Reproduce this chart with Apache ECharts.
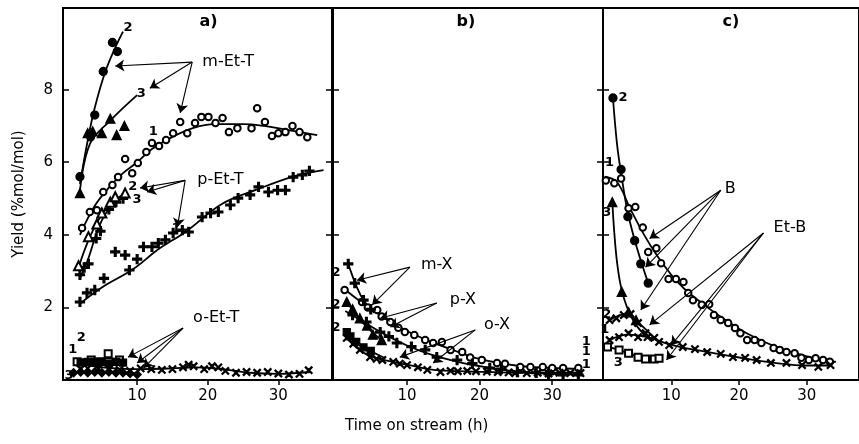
<!DOCTYPE html>
<html><head><meta charset="utf-8">
<script src="https://cdn.jsdelivr.net/npm/echarts@6/dist/echarts.min.js"></script>
<style>html,body{margin:0;padding:0;background:#fff}#c{width:859px;height:444px}</style>
</head><body><div id="c"></div>
<script>
// ---------- tick labels ----------
const yTicks = [2, 4, 6, 8];
const xTicks = [10, 20, 30];
const yAxisTitle = 'Yield (%mol/mol)';
const xAxisTitle = 'Time on stream (h)';

// ---------- panel a: ethyltoluenes ----------
const mEtT1 = [[2.2,4.19],[3.3,4.63],[4.3,4.68],[5.2,5.18],[6.5,5.37],[7.3,5.59],[8.3,6.09],[9.3,5.70],[10.1,5.98],[11.3,6.28],[12.1,6.53],[13.1,6.45],[14.1,6.61],[15.1,6.80],[16.1,7.11],[17.1,6.80],[18.2,7.08],[19.1,7.25],[20.1,7.25],[21.1,7.08],[22.1,7.22],[23.0,6.83],[24.2,6.94],[26.2,6.94],[27.0,7.49],[28.1,7.11],[29.1,6.72],[30.0,6.80],[31.0,6.83],[32.0,7.0],[33.0,6.83],[34.1,6.69]];
const mEtT1Fit = [[1.9,4.0],[4,4.8],[6,5.3],[8,5.7],[10,6.0],[12,6.35],[15,6.7],[18,6.95],[21,7.05],[25,7.05],[28,7.0],[31,6.9],[35.5,6.75]];
const mEtT2 = [[1.9,5.6],[3.4,6.7],[4.0,7.3],[5.2,8.5],[6.5,9.3],[7.2,9.05]];
const mEtT2Fit = [[1.9,5.4],[3,6.6],[4,7.5],[5.5,8.5],[7,9.2],[8,9.6]];
const mEtT3 = [[1.9,5.15],[3.0,6.8],[3.7,6.85],[5.0,6.8],[6.2,7.2],[7.1,6.75],[8.2,7.0]];
const mEtT3Fit = [[1.9,5.2],[3.3,6.5],[6.2,7.15],[10,7.85]];
const pEtT1 = [[1.9,2.15],[2.9,2.4],[4.0,2.48],[5.3,2.8],[6.9,3.53],[8.3,3.44],[8.9,3.03],[10.0,3.33],[10.9,3.67],[12.1,3.67],[13.0,3.77],[14.0,3.86],[15.1,4.05],[16.4,4.13],[17.3,4.08],[19.2,4.49],[20.4,4.6],[21.5,4.63],[23.2,4.82],[24.3,5.01],[26.0,5.1],[27.2,5.32],[28.6,5.18],[29.9,5.23],[31.0,5.23],[32.1,5.59],[33.4,5.65],[34.4,5.76]];
const pEtT1Fit = [[1.9,2.1],[5,2.55],[9.4,3.05],[13,3.6],[17,4.1],[22,4.85],[27,5.25],[32,5.6],[36.4,5.78]];
const pEtT2 = [[1.9,2.9],[2.5,3.1],[3.1,3.2],[4.2,3.9],[4.8,4.1],[6.0,4.7],[7.0,4.9],[8.0,5.0]];
const pEtT2Fit = [[1.9,2.8],[3,3.3],[4,3.9],[5,4.4],[6.5,4.85],[8,5.1]];
const pEtT3 = [[1.7,3.15],[3.1,3.95],[4.3,4.3],[5.0,4.6],[6.2,4.9],[6.9,5.05],[8.3,5.15]];
const pEtT3Fit = [[1.7,3.1],[3,3.8],[4.5,4.4],[6,4.8],[8.3,5.15]];
const oEtT1 = [[2,0.3],[3,0.32],[4.5,0.3],[6,0.3],[7.5,0.28],[9,0.25],[10.5,0.32],[12,0.3],[13.5,0.28],[15,0.3],[16.5,0.35],[17.3,0.42],[18,0.38],[19.5,0.3],[20.6,0.38],[21.5,0.35],[22.5,0.25],[24,0.2],[25.5,0.22],[27,0.2],[28.5,0.22],[30,0.18],[31.5,0.15],[33,0.17],[34.3,0.27]];
const oEtT1Fit = [[1.5,0.45],[5,0.35],[10,0.3],[15,0.32],[18,0.35],[22,0.3],[26,0.2],[30,0.17],[34.5,0.22]];
const oEtT1b = [[1.5,0.5],[3.5,0.55],[5.9,0.72],[7.5,0.55]];
const oEtT2 = [[2,0.48],[3,0.5],[4,0.5],[5,0.5],[6,0.45],[7,0.5],[8,0.48]];
const oEtT2Fit = [[1.5,0.55],[5,0.6],[8.5,0.55]];
const oEtT3 = [[1,0.2],[2,0.22],[3,0.2],[4,0.22],[5,0.2],[6,0.22],[7,0.2],[8,0.2],[9,0.18],[10,0.15]];
const oEtT3Fit = [[1,0.22],[5,0.22],[10,0.18]];

// ---------- panel b: xylenes ----------
const mX1 = [[1.4,2.48],[3.8,2.15],[4.6,2.0],[5.9,1.93],[6.5,1.75],[7.7,1.6],[8.8,1.44],[9.7,1.32],[11,1.24],[12.5,1.1],[13.6,1.02],[14.8,1.05],[16.0,0.83],[17.6,0.77],[18.7,0.62],[20.3,0.55],[22.4,0.47],[23.5,0.45],[25.6,0.36],[27,0.36],[28.7,0.36],[30,0.33],[31.5,0.33],[33.6,0.33]];
const mX1Fit = [[1.4,2.5],[4,2.1],[7,1.7],[10,1.35],[13,1.08],[16,0.85],[20,0.58],[25,0.4],[30,0.33],[34,0.3]];
const mX2 = [[1.9,3.2],[2.8,2.67],[4,2.2],[5,1.95]];
const mX2Fit = [[1.9,3.2],[3,2.6],[4,2.2],[5.5,1.85]];
const pX1 = [[2.5,1.79],[4.4,1.6],[6.3,1.32],[7.5,1.2],[8.6,1.02],[10.6,0.92],[12.5,0.83],[14.1,0.63],[16.9,0.55],[19,0.45],[21.4,0.33],[23,0.3],[25.2,0.22],[27.8,0.2],[29.5,0.17],[31.5,0.14],[33.6,0.14]];
const pX1Fit = [[1.5,1.9],[4,1.6],[7,1.25],[10,0.95],[13,0.72],[17,0.5],[21,0.35],[26,0.22],[34,0.14]];
const pX2 = [[1.7,2.15],[2.5,1.95],[3.5,1.7],[4.5,1.5],[5.3,1.25],[6.5,1.1]];
const pX2Fit = [[1.5,2.2],[3,1.8],[4.5,1.45],[6.5,1.1]];
const oX1 = [[1.7,1.16],[2.6,1.0],[3.5,0.83],[4.9,0.63],[5.8,0.58],[6.6,0.55],[8.1,0.5],[9,0.45],[10,0.41],[11.5,0.35],[12.8,0.28],[14.6,0.22],[16,0.25],[17,0.24],[18.3,0.25],[19.5,0.24],[21,0.23],[22.5,0.22],[24,0.21],[24.9,0.19],[26.5,0.19],[28,0.2],[29.5,0.18],[31,0.2],[32.5,0.19],[33.9,0.19]];
const oX1Fit = [[1.5,1.2],[3,0.9],[5,0.65],[8,0.5],[11,0.38],[14,0.27],[18,0.24],[25,0.2],[34,0.2]];
const oX2 = [[1.7,1.32],[2.2,1.2],[3,1.05],[4,0.9],[5,0.8]];
const oX2Fit = [[1.5,1.35],[3,1.05],[5,0.8],[7,0.6]];

// ---------- panel c: benzene / ethylbenzene ----------
const B1 = [[0.35,5.5],[1.6,5.42],[2.6,5.55],[3.7,4.73],[4.7,4.77],[5.8,4.2],[6.6,3.53],[7.8,3.63],[8.5,3.22],[9.6,2.78],[10.7,2.78],[11.8,2.7],[12.5,2.4],[13.2,2.2],[14.5,2.07],[15.6,2.09],[16.3,1.79],[17.3,1.65],[18.4,1.57],[19.4,1.43],[20.2,1.29],[21.2,1.1],[22.3,1.1],[23.3,1.02],[25.1,0.88],[26.0,0.83],[27,0.77],[28.2,0.74],[29.2,0.61],[30.3,0.55],[31.3,0.6],[32.4,0.55],[33.4,0.5]];
const B1Fit = [[0.2,5.6],[2,5.45],[4,4.7],[6,4.0],[8,3.4],[10,2.9],[12,2.5],[15,2.05],[18,1.65],[21,1.3],[25,0.95],[30,0.65],[34.3,0.5]];
const B2 = [[1.4,7.77],[2.6,5.8],[3.6,4.5],[4.6,3.84],[5.5,3.2],[6.6,2.67]];
const B2Fit = [[1.4,7.77],[2,6.5],[2.6,5.7],[3.6,4.6],[5,3.6],[6.6,2.67]];
const B3 = [[1.3,4.9],[2.7,2.43],[3.7,1.87],[4.8,1.65]];
const B3Fit = [[1.3,4.95],[1.6,4.05],[2.1,3.1],[2.8,2.4],[4.1,1.74],[5.8,1.29],[7.5,1.1]];
const EtB1 = [[0.9,1.1],[2.3,1.18],[3.7,1.29],[5.1,1.18],[6.5,1.18],[8.2,1.05],[9.7,0.96],[11.7,0.91],[13.5,0.85],[15.3,0.77],[17.3,0.72],[19.1,0.63],[20.9,0.61],[22.6,0.55],[24.7,0.47],[27,0.47],[29.3,0.41],[31.7,0.36],[33.5,0.41]];
const EtB1Fit = [[0.9,1.1],[3.7,1.25],[6.5,1.18],[10,0.97],[15,0.78],[20,0.62],[25,0.48],[30,0.4],[33.5,0.4]];
const EtB2 = [[0.9,1.65],[1.9,1.7],[3,1.79],[4,1.82],[5.1,1.57],[6.2,1.29],[7.5,1.16]];
const EtB2Fit = [[0.9,1.65],[3,1.8],[5,1.6],[7.5,1.15]];
const EtB3 = [[0.6,0.91],[2.3,0.83],[3.7,0.74],[5.1,0.63],[6.2,0.58],[7.5,0.58],[8.2,0.6]];
const EtB3Fit = [[0.6,0.92],[3.7,0.74],[6.2,0.58],[8.2,0.6]];

// ---------- annotations (text, position in data units) ----------
const labelsA = [['a)',20.1,9.86,2],['m-Et-T',22.9,8.76,1],['p-Et-T',21.8,5.51,1],['o-Et-T',21.2,1.71,1],
  ['2',8.7,9.7,0],['3',10.6,7.9,0],['1',12.3,6.83,0],['2',9.4,5.32,0],['3',10,4.96,0],['1',15.5,4.16,0],
  ['1',0.9,0.83,0],['2',2.1,1.16,0],['3',0.35,0.11,0]];
const labelsB = [['b)',18.1,9.86,2],['m-X',14.1,3.17,1],['p-X',17.7,2.2,1],['o-X',22.4,1.52,1],
  ['2',0.2,2.95,0],['2',0.2,2.07,0],['2',0.2,1.43,0],['1',34.7,1.05,0],['1',34.7,0.77,0],['1',34.7,0.41,0]];
const labelsC = [['c)',18.8,9.86,2],['B',18.7,5.26,1],['Et-B',27.5,4.19,1],
  ['2',2.9,7.77,0],['1',0.9,6.0,0],['3',0.5,4.6,0],['2',0.5,1.79,0],['1',0.2,1.38,0],['3',2.2,0.47,0]];
const arrowsA = [[[17.8,8.76],[6.9,8.65]],[[17.8,8.76],[11.8,8.04]],[[17.8,8.76],[16.1,7.36]],
  [[16.8,5.5],[10.4,5.29]],[[16.8,5.5],[11.4,5.18]],[[16.8,5.5],[15.7,4.21]],
  [[16.5,1.43],[8.7,0.63]],[[16.5,1.43],[10,0.47]],[[16.5,1.43],[10.9,0.33]]];
const arrowsB = [[[10.4,3.11],[3.1,2.75]],[[10.4,3.11],[5.2,2.07]],
  [[14.1,2.12],[6.3,1.7]],[[14.1,2.12],[7.7,1.46]],
  [[19.4,1.38],[9,0.63]],[[19.4,1.38],[13.6,0.47]]];
const arrowsC = [[[17.3,5.23],[6.8,3.9]],[[17.3,5.23],[6.2,3.11]],[[17.3,5.23],[5.5,1.93]],
  [[23.6,4.05],[6.8,1.52]],[[23.6,4.05],[10,0.96]],[[23.6,4.05],[9.3,0.55]]];

// ---------- build ----------
const FONT = 'DejaVu Sans';
const PLUS = 'path://M4 0h2v4h4v2h-4v4h-2v-4h-4v-2h4z';
const CROSS = 'path://M1 0L5 4L9 0L10 1L6 5L10 9L9 10L5 6L1 10L0 9L4 5L0 1Z';
const sym = {
  oc: {symbol:'emptyCircle', size:6.5},
  fc: {symbol:'circle', size:8},
  ft: {symbol:'triangle', size:9},
  ot: {symbol:'emptyTriangle', size:9},
  pl: {symbol:PLUS, size:9},
  x:  {symbol:CROSS, size:7},
  fs: {symbol:'rect', size:7},
  os: {symbol:'emptyRect', size:7},
  fd: {symbol:'diamond', size:8}
};
const series = [];
function pts(g, data, s) {
  series.push({type:'scatter', xAxisIndex:g, yAxisIndex:g, data, symbol:sym[s].symbol, symbolSize:sym[s].size,
    itemStyle:{color:'#000', borderColor:'#000', borderWidth:1.3, opacity:1}, z:3, silent:true});
}
function fit(g, data) {
  series.push({type:'line', xAxisIndex:g, yAxisIndex:g, data, smooth:0.4, showSymbol:false, symbol:'none',
    lineStyle:{color:'#000', width:1.8}, z:2, silent:true});
}
function annot(g, labels, arrows) {
  series.push({type:'scatter', xAxisIndex:g, yAxisIndex:g, symbolSize:0, silent:true, z:5,
    itemStyle:{opacity:1, color:'#000'},
    data: labels.map(l => ({name:l[0], value:[l[1], l[2]],
      label:{show:true, position:'inside', formatter:'{b}', color:'#000', opacity:1, fontFamily:FONT,
             fontSize: l[3] ? 16 : 13, fontWeight: l[3] === 1 ? 'normal' : 'bold'}})),
    markLine:{silent:true, symbol:['none','arrow'], symbolSize:9, animation:false,
      label:{show:false}, lineStyle:{color:'#000', type:'solid', width:1.1, opacity:1},
      data: arrows.map(a => [{coord:a[0]}, {coord:a[1]}])}
  });
}
// panel a
fit(0,mEtT1Fit); pts(0,mEtT1,'oc');
fit(0,mEtT2Fit); pts(0,mEtT2,'fc');
fit(0,mEtT3Fit); pts(0,mEtT3,'ft');
fit(0,pEtT1Fit); pts(0,pEtT1,'pl');
fit(0,pEtT2Fit); pts(0,pEtT2,'pl');
fit(0,pEtT3Fit); pts(0,pEtT3,'ot');
fit(0,oEtT1Fit); pts(0,oEtT1,'x'); pts(0,oEtT1b,'os');
fit(0,oEtT2Fit); pts(0,oEtT2,'fs');
fit(0,oEtT3Fit); pts(0,oEtT3,'fd');
annot(0,labelsA,arrowsA);
// panel b
fit(1,mX1Fit); pts(1,mX1,'oc');
fit(1,mX2Fit); pts(1,mX2,'pl');
fit(1,pX1Fit); pts(1,pX1,'pl');
fit(1,pX2Fit); pts(1,pX2,'ft');
fit(1,oX1Fit); pts(1,oX1,'x');
fit(1,oX2Fit); pts(1,oX2,'fs');
annot(1,labelsB,arrowsB);
// panel c
fit(2,B1Fit); pts(2,B1,'oc');
fit(2,B2Fit); pts(2,B2,'fc');
fit(2,B3Fit); pts(2,B3,'ft');
fit(2,EtB1Fit); pts(2,EtB1,'x');
fit(2,EtB2Fit); pts(2,EtB2,'x');
fit(2,EtB3Fit); pts(2,EtB3,'os');
annot(2,labelsC,arrowsC);

const grids = [
  {left:63, width:269, top:8, height:372},
  {left:333, width:270, top:8, height:372},
  {left:603, width:270, top:8, height:372}
];
const xr = [[-0.5,37.6],[-0.2,37.0],[-0.07,37.7]];
const xAxis = grids.map((g,i) => ({gridIndex:i, type:'value', min:xr[i][0], max:xr[i][1],
  axisLine:{show:true, onZero:false, lineStyle:{color:'#000', width:2}},
  axisTick:{show:true, customValues:xTicks, inside:false, length:5, lineStyle:{color:'#000', width:1.5}},
  axisLabel:{customValues:xTicks, color:'#000', fontFamily:FONT, fontSize:15, margin:9},
  splitLine:{show:false}}));
const yAxis = [];
grids.forEach((g,i) => {
  yAxis.push({gridIndex:i, type:'value', min:0, max:10.25, position:'left',
    name: i===0 ? yAxisTitle : '', nameLocation:'middle', nameGap:36,
    nameTextStyle:{color:'#000', fontFamily:FONT, fontSize:15},
    axisLine:{show:true, onZero:false, lineStyle:{color:'#000', width:2}},
    axisTick:{show:true, customValues:yTicks, inside:true, length:6, lineStyle:{color:'#000', width:1.5}},
    axisLabel:{show:i===0, customValues:yTicks, color:'#000', fontFamily:FONT, fontSize:15, margin:10},
    splitLine:{show:false}});
});
grids.forEach((g,i) => {
  yAxis.push({gridIndex:i, type:'value', min:0, max:10.25, position:'right',
    axisLine:{show:true, onZero:false, lineStyle:{color:'#000', width:2}},
    axisTick:{show:i<2, customValues:yTicks, inside:true, length:6, lineStyle:{color:'#000', width:1.5}},
    axisLabel:{show:false}, splitLine:{show:false}});
});

const chart = echarts.init(document.getElementById('c'), null, {renderer:'canvas'});
chart.setOption({
  animation:false,
  backgroundColor:'#fff',
  grid: grids.map(g => Object.assign({show:true, borderColor:'#000', borderWidth:2, backgroundColor:'transparent'}, g)),
  xAxis, yAxis, series,
  graphic:[{type:'text', left:345, top:419, style:{text:xAxisTitle, fill:'#000', font:'15px "DejaVu Sans"'}}]
});
</script></body></html>
